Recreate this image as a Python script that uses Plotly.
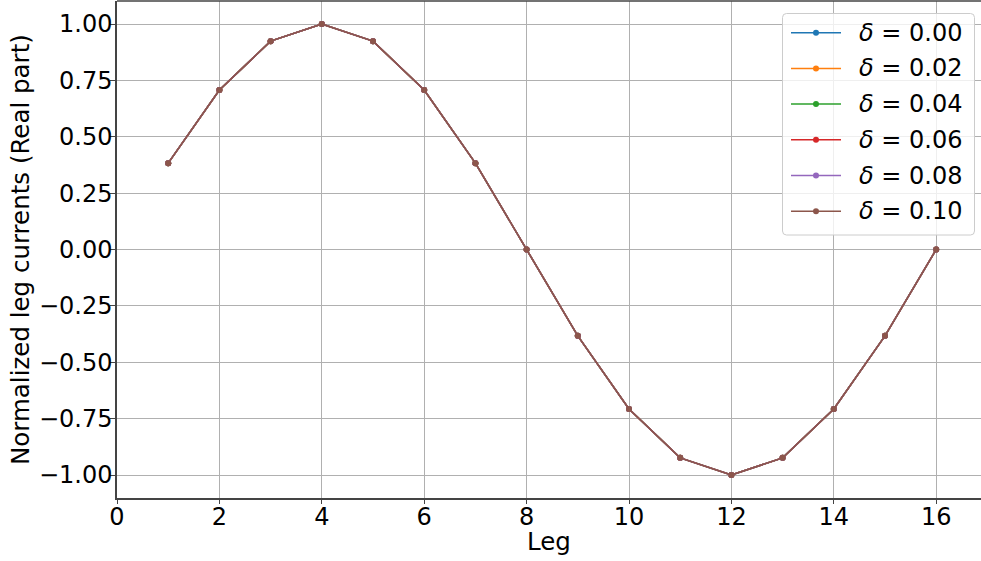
import plotly.graph_objects as go

legs = list(range(1, 17))
deltas = ["0.00", "0.02", "0.04", "0.06", "0.08", "0.10"]
colors = ["#1f77b4", "#ff7f0e", "#2ca02c", "#d62728", "#9467bd", "#8c564b"]
currents = [0.383, 0.707, 0.924, 1.000, 0.924, 0.707, 0.383, 0.000,
            -0.383, -0.707, -0.924, -1.000, -0.924, -0.707, -0.383, 0.000]
series = {d: list(currents) for d in deltas}

W, H = 981, 561
ML, MR, MT, MB = 117, 0, 1, 63
PW, PH = W - ML - MR, H - MT - MB


def px(x):
    return (x - ML) / PW


def py(y):
    return 1 - (y - MT) / PH


fig = go.Figure()
for d, c in zip(deltas, colors):
    fig.add_trace(go.Scatter(
        x=legs, y=series[d], mode="lines+markers",
        name="<i>δ</i> = " + d,
        line=dict(color=c, width=1.5),
        marker=dict(color=c, size=6),
        showlegend=False,
    ))

font = "DejaVu Sans"
fig.update_layout(
    width=W, height=H,
    margin=dict(l=ML, r=MR, t=MT, b=MB),
    paper_bgcolor="white", plot_bgcolor="white",
    font=dict(family=font, size=24, color="black"),
)
fig.update_xaxes(
    range=[0, 16.875], dtick=2, tick0=0,
    showgrid=True, gridcolor="#b0b0b0", gridwidth=0.8,
    showline=True, linecolor="#444444", linewidth=1.5, mirror=False,
    ticks="outside", ticklen=4, tickcolor="#444444",
    ticklabelstandoff=-8,
    zeroline=False,
)
fig.update_yaxes(
    range=[-1.102, 1.102], dtick=0.25, tick0=0, tickformat=".2f",
    showgrid=True, gridcolor="#b0b0b0", gridwidth=0.8,
    showline=True, linecolor="#444444", linewidth=1.5, mirror=False,
    ticks="outside", ticklen=5, tickcolor="#444444",
    ticklabelstandoff=-7,
    zeroline=False,
)
# top spine
fig.add_shape(type="line", xref="paper", yref="paper", x0=0, x1=1, y0=1, y1=1,
              line=dict(color="#444444", width=1.5))

# axis titles
fig.add_annotation(text="Leg", xref="paper", yref="paper", x=0.5, y=py(541),
                   xanchor="center", yanchor="middle", showarrow=False,
                   font=dict(family=font, size=24.5))
fig.add_annotation(text="Normalized leg currents (Real part)", xref="paper", yref="paper",
                   x=px(21), y=py(250), xanchor="center", yanchor="middle",
                   textangle=-90, showarrow=False, font=dict(family=font, size=24.5))

# legend box (matplotlib style, rounded)
x0, x1, y0, y1 = px(782.5), px(974.5), py(13.5), py(235)
rx, ry = 4 / PW, 4 / PH
path = (f"M{x0+rx},{y0} L{x1-rx},{y0} Q{x1},{y0} {x1},{y0-ry} "
        f"L{x1},{y1+ry} Q{x1},{y1} {x1-rx},{y1} L{x0+rx},{y1} "
        f"Q{x0},{y1} {x0},{y1+ry} L{x0},{y0-ry} Q{x0},{y0} {x0+rx},{y0} Z")
fig.add_shape(type="path", path=path, xref="paper", yref="paper",
              fillcolor="rgba(255,255,255,0.8)", line=dict(color="#cccccc", width=1))

row_y0, row_dy = 32.7, 35.7
for i, (d, c) in enumerate(zip(deltas, colors)):
    yy = row_y0 + i * row_dy
    fig.add_shape(type="line", xref="paper", yref="paper",
                  x0=px(791), x1=px(841), y0=py(yy), y1=py(yy),
                  line=dict(color=c, width=1.5))
    fig.add_shape(type="circle", xref="paper", yref="paper",
                  x0=px(813), x1=px(819), y0=py(yy + 3), y1=py(yy - 3),
                  fillcolor=c, line=dict(color=c, width=0))
    fig.add_annotation(text="<i>δ</i> = " + d, xref="paper", yref="paper",
                       x=px(857), y=py(yy), xanchor="left", yanchor="middle",
                       showarrow=False, font=dict(family=font, size=24))

fig.write_html("out.html")
